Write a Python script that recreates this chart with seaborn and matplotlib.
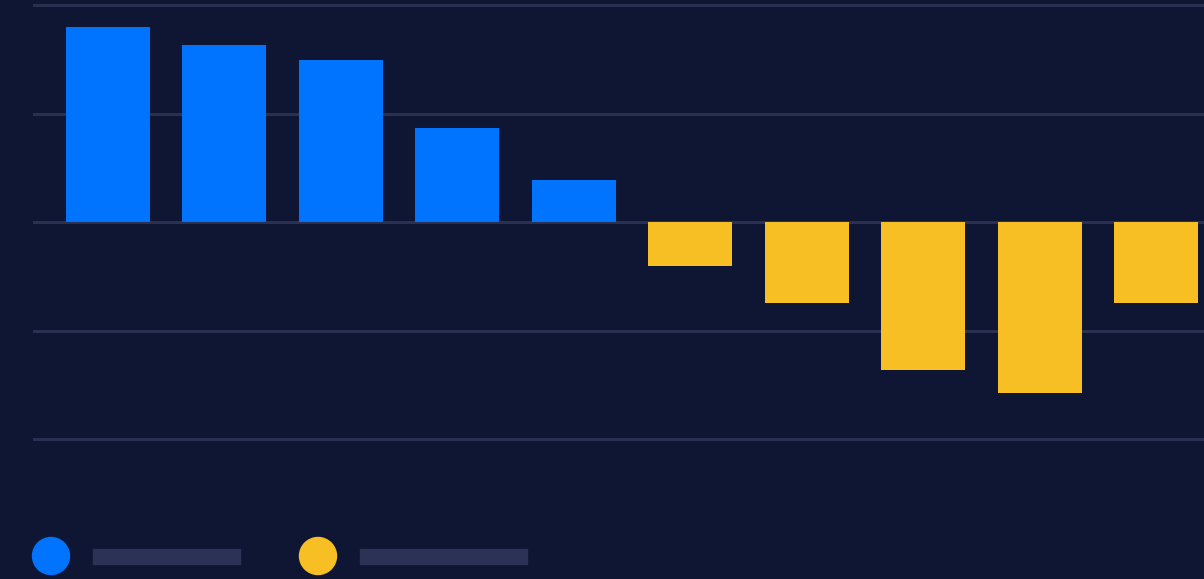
import numpy as np
import pandas as pd
import seaborn as sns
import matplotlib.pyplot as plt
from matplotlib.patches import Ellipse, Rectangle

# values (one grid step = 1 unit)
categories = ['A', 'B', 'C', 'D', 'E', 'F', 'G', 'H', 'I', 'J']
values = [1.80, 1.63, 1.49, 0.87, 0.39, -0.40, -0.74, -1.36, -1.57, -0.74]
series = ['up', 'up', 'up', 'up', 'up', 'down', 'down', 'down', 'down', 'down']
grid_levels = [-2, -1, 0, 1, 2]

bg = '#0f1633'
grid_col = '#2b3053'
blue = '#0073ff'
yellow = '#f8bf24'
legend_bar = '#2c3256'

df = pd.DataFrame({'cat': categories, 'val': values, 'series': series})

sns.set_theme(style='dark')
fig = plt.figure(figsize=(12.04, 5.79), dpi=100, facecolor=bg)

# axes spans x 33..1204 px, y 0..460 px
ax = fig.add_axes([33 / 1204, 1 - 460 / 579, 1 - 33 / 1204, 460 / 579])
ax.set_facecolor(bg)

for lv in grid_levels:
    ax.axhline(lv, color=grid_col, lw=2.2, zorder=0)

sns.barplot(data=df, x='cat', y='val', hue='series', dodge=False,
            palette={'up': blue, 'down': yellow}, width=0.72,
            saturation=1, legend=False, linewidth=0, ax=ax, zorder=2)

ax.set_xlim(-0.64, 9.41)
ax.set_ylim(-2.19, 2.046)
ax.set_xticks([])
ax.set_yticks([])
ax.set_xlabel('')
ax.set_ylabel('')
for s in ax.spines.values():
    s.set_visible(False)

# legend: dots with placeholder bars instead of text
W, H = 1204, 579
def fx(px):
    return px / W
def fy(py):
    return 1 - py / H

for cx, col, bx0, bx1 in [(51, blue, 93, 240), (318, yellow, 360, 527)]:
    fig.patches.append(Ellipse((fx(cx), fy(556)), 37 / W, 37 / H, color=col,
                               transform=fig.transFigure, figure=fig))
    fig.patches.append(Rectangle((fx(bx0), fy(564)), (bx1 - bx0) / W, 15 / H,
                                 color=legend_bar, transform=fig.transFigure,
                                 figure=fig))

fig.savefig('out.png', dpi=100, facecolor=bg)
